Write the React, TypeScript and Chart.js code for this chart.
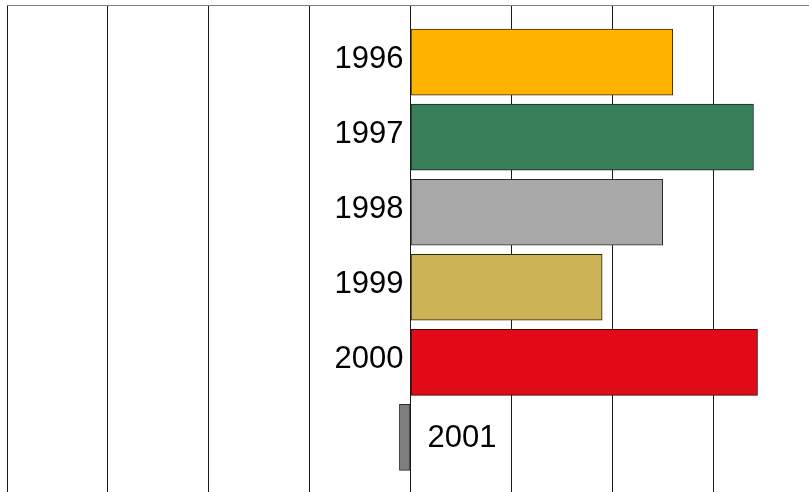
import React, { useEffect, useRef } from "react";
import { Chart, registerables } from "chart.js";

Chart.register(...registerables);

const years = ["1996", "1997", "1998", "1999", "2000", "2001"];
const values = [2.6, 3.4, 2.5, 1.9, 3.44, -0.11];
const barColors = ["#FFB300", "#38805A", "#A9A8A8", "#CBB356", "#E10A17", "#7F7F7F"];
const borderColors = ["#3a2a05", "#102a1c", "#2a2a2a", "#2a2510", "#3a0508", "#2a2a2a"];
const xTicksMin = -4;
const xTicksMax = 4;

const labelPlugin = {
  id: "yearLabels",
  afterDatasetsDraw(chart: any) {
    const ctx = chart.ctx;
    const meta = chart.getDatasetMeta(0);
    const xScale = chart.scales.x;
    const x0 = xScale.getPixelForValue(0);
    ctx.save();
    ctx.font = "31px 'Liberation Sans', Arial, sans-serif";
    ctx.fillStyle = "#000000";
    ctx.textBaseline = "middle";
    meta.data.forEach((bar: any, i: number) => {
      const v = values[i];
      if (v >= 0) {
        ctx.textAlign = "right";
        ctx.fillText(years[i], x0 - 7, bar.y - 3);
      } else {
        ctx.textAlign = "left";
        ctx.fillText(years[i], x0 + 17, bar.y + 1);
      }
    });
    ctx.restore();
  },
};

export default function App() {
  const ref = useRef<HTMLCanvasElement | null>(null);
  useEffect(() => {
    if (!ref.current) return;
    const chart = new Chart(ref.current, {
      type: "bar",
      data: {
        datasets: [
          {
            data: values.map((v, i) => ({ x: v, y: i })),
            backgroundColor: barColors,
            borderColor: borderColors,
            borderWidth: 1,
            borderSkipped: false,
            barThickness: 66,
          },
        ],
      },
      options: {
        indexAxis: "y",
        animation: false,
        responsive: false,
        layout: { padding: { left: 7, right: 16, top: 5, bottom: 5 } },
        plugins: { legend: { display: false }, tooltip: { enabled: false } },
        scales: {
          x: {
            type: "linear",
            position: "top",
            min: xTicksMin,
            max: xTicksMax,
            ticks: { display: false, stepSize: 1 },
            grid: { color: "#1a1a1a", lineWidth: 1, drawTicks: false },
            border: { display: true, color: "#808080", width: 1 },
          },
          y: {
            type: "linear",
            reverse: true,
            offset: false,
            min: -0.76,
            max: 5.9,
            display: false,
          },
        },
      },
      plugins: [labelPlugin],
    } as any);
    return () => chart.destroy();
  }, []);
  return (
    <div
      style={{
        position: "fixed",
        left: 0,
        top: 0,
        width: 809,
        height: 492,
        overflow: "hidden",
        background: "#fff",
      }}
    >
      <canvas ref={ref} width={830} height={510} style={{ display: "block" }} />
    </div>
  );
}
